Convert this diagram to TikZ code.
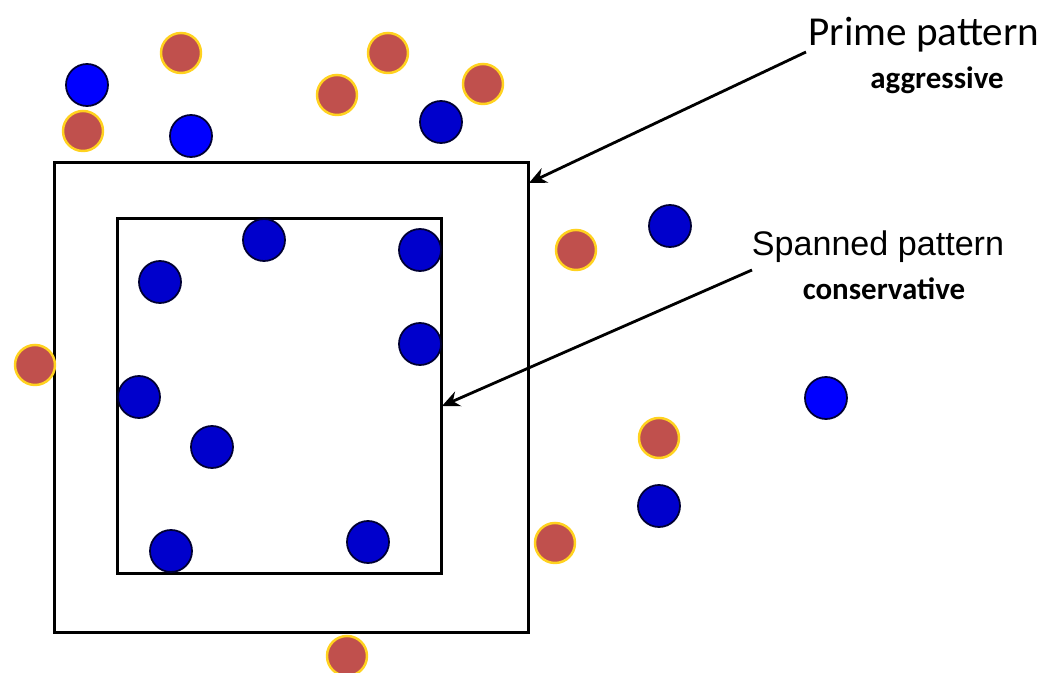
\documentclass[tikz,border=0pt]{standalone}
\usepackage{fontspec}
\setmainfont{Carlito}
\newfontfamily\arialfont{Liberation Sans}
\usetikzlibrary{arrows.meta}
\definecolor{dotred}{HTML}{C0504D}
\definecolor{dotrim}{HTML}{FFD21F}
\definecolor{brightblue}{HTML}{0000FF}
\definecolor{deepblue}{HTML}{0000CC}
\definecolor{bluerim}{HTML}{000033}
\tikzset{
  reddot/.style={circle, fill=dotred, draw=dotrim, line width=0.7pt, minimum size=0.4cm, inner sep=0pt},
  bluedot/.style={circle, fill=brightblue, draw=bluerim, line width=0.5pt, minimum size=0.42cm, inner sep=0pt},
  darkdot/.style={circle, fill=deepblue, draw=bluerim, line width=0.5pt, minimum size=0.42cm, inner sep=0pt},
  frame/.style={draw=black, line width=0.85pt, fill=none, inner sep=0pt},
  pointer/.style={line width=0.8pt, -{Stealth[length=5pt,width=4.5pt]}},
}
\begin{document}
\begin{tikzpicture}[x=0.01cm, y=-0.01cm]
\useasboundingbox (0,0) rectangle (1047,673);

% pattern frames
\node[frame, minimum width=4.73cm, minimum height=4.69cm] (outer) at (291.5,397.5) {};
\node[frame, minimum width=3.23cm, minimum height=3.54cm] (inner) at (279.5,396) {};

% red points
\node[reddot] (r1) at (181,53) {};
\node[reddot] (r2) at (83,131) {};
\node[reddot] (r3) at (337,95) {};
\node[reddot] (r4) at (388,53) {};
\node[reddot] (r5) at (483,84) {};
\node[reddot] (r6) at (576,250) {};
\node[reddot] (r7) at (35,365) {};
\node[reddot] (r8) at (659,438) {};
\node[reddot] (r9) at (555,543) {};
\node[reddot] (r10) at (347,656) {};

% blue points
\node[bluedot] (b1) at (87,85) {};
\node[bluedot] (b2) at (191,136) {};
\node[bluedot] (b3) at (826,398) {};
\node[darkdot] (d1) at (441,122) {};
\node[darkdot] (d2) at (670,226) {};
\node[darkdot] (d3) at (264,240) {};
\node[darkdot] (d4) at (420,250) {};
\node[darkdot] (d5) at (160,282) {};
\node[darkdot] (d6) at (420,344) {};
\node[darkdot] (d7) at (139,397) {};
\node[darkdot] (d8) at (212,447) {};
\node[darkdot] (d9) at (171,551) {};
\node[darkdot] (d10) at (368,542) {};
\node[darkdot] (d11) at (659,506) {};

% labels
\node[font=\fontsize{11.7}{14}\selectfont, inner sep=0pt] (prime) at (924,35) {Prime pattern};
\node[font=\fontsize{8.8}{11}\selectfont\bfseries, inner sep=0pt] (aggr) at (937,80) {aggressive};
\node[font=\arialfont\fontsize{9.7}{12}\selectfont, inner sep=0pt] (span) at (878,247) {Spanned pattern};
\node[font=\fontsize{8.8}{11}\selectfont\bfseries, inner sep=0pt] (cons) at (884,289) {conservative};

% pointers
\coordinate (ptail) at (806,52);
\coordinate (phead) at (529,183);
\coordinate (stail) at (752,270);
\coordinate (shead) at (442,406);
\draw[pointer] (ptail) -- (phead);
\draw[pointer] (stail) -- (shead);
\end{tikzpicture}
\end{document}
